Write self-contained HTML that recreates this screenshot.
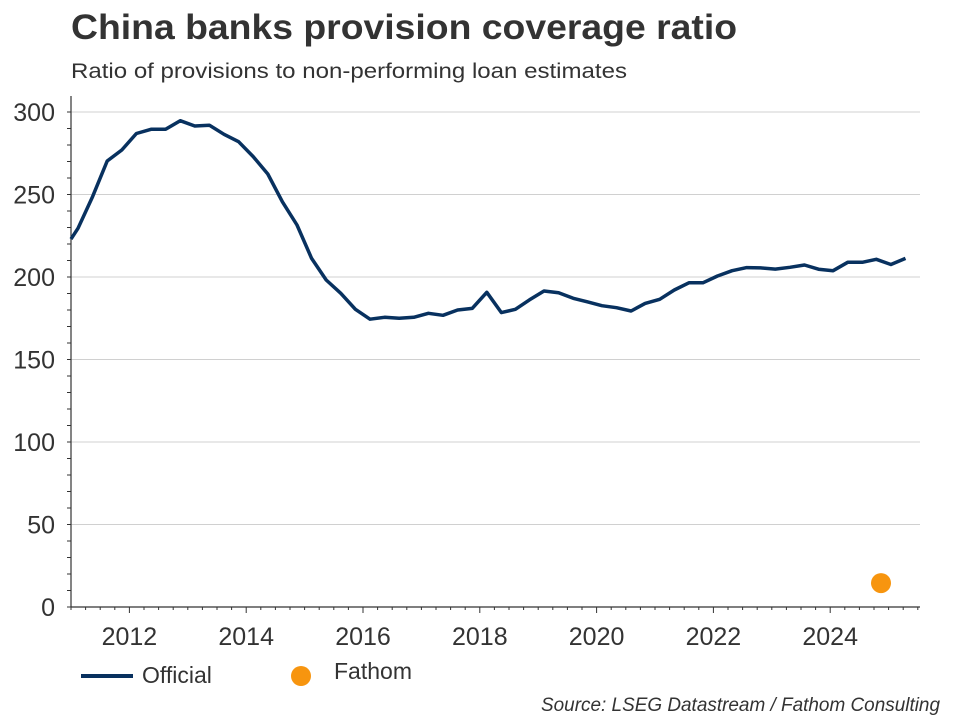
<!DOCTYPE html>
<html><head><meta charset="utf-8"><style>
body{margin:0;background:#fff;width:960px;height:720px;overflow:hidden;font-family:"Liberation Sans",Arial,sans-serif}
</style></head><body>
<svg width="960" height="720" id="c" font-family="Liberation Sans, Arial, sans-serif">
<text x="71" y="39" font-size="35" font-weight="bold" fill="#333" textLength="666" lengthAdjust="spacingAndGlyphs">China banks provision coverage ratio</text>
<text x="71" y="78" font-size="21" fill="#333" textLength="556" lengthAdjust="spacingAndGlyphs">Ratio of provisions to non-performing loan estimates</text>
<g id="grid"></g><g id="axes"></g><g id="marks"></g>
<line x1="81" y1="676" x2="133" y2="676" stroke="#08315f" stroke-width="4"/>
<text x="142" y="683" font-size="23" fill="#333">Official</text>
<ellipse cx="301" cy="676" rx="10" ry="10" fill="#f7950f"/>
<text x="334" y="679" font-size="23" fill="#333">Fathom</text>
<text x="940" y="711" font-size="19" font-style="italic" fill="#333" text-anchor="end" textLength="399" lengthAdjust="spacingAndGlyphs">Source: LSEG Datastream / Fathom Consulting</text>
</svg>
<script>
const officialDates=[2011.12,2011.37,2011.62,2011.87,2012.12,2012.37,2012.62,2012.87,2013.12,2013.37,2013.62,2013.87,2014.12,2014.37,2014.62,2014.87,2015.12,2015.37,2015.62,2015.87,2016.12,2016.37,2016.62,2016.87,2017.12,2017.37,2017.62,2017.87,2018.12,2018.37,2018.61,2018.85,2019.1,2019.35,2019.6,2019.84,2020.09,2020.34,2020.59,2020.83,2021.08,2021.33,2021.58,2021.82,2022.07,2022.32,2022.57,2022.81,2023.06,2023.31,2023.56,2023.8,2024.05,2024.3,2024.55,2024.79,2025.04,2025.29];
const officialValues=[229.5,248.7,270.3,277,287,289.5,289.5,294.7,291.5,292,286.5,282,273,262.4,245.6,231.5,211.3,198.2,190.1,180.4,174.4,175.6,175,175.6,178,176.8,180,181,190.7,178.4,180.4,186.1,191.5,190.5,187.1,185,182.6,181.4,179.4,184,186.5,192.1,196.5,196.5,200.6,203.8,205.7,205.5,204.8,205.9,207.3,204.7,203.8,208.9,208.9,210.7,207.6,211.3];
const fathomDates=[2024.87];
const fathomValues=[14.5];
const yTicks=[0,50,100,150,200,250,300];
const xTicks=[2012,2014,2016,2018,2020,2022,2024];
const NS="http://www.w3.org/2000/svg";
const X0=71,X1=920,Y0=607,YT=96;
const xs=t=>X0+(t-2011.0)*58.4;
const ys=v=>Y0-v*1.65;
function mk(tag,attrs,parent){const e=document.createElementNS(NS,tag);for(const k in attrs)e.setAttribute(k,attrs[k]);document.getElementById(parent).appendChild(e);return e;}
yTicks.forEach(v=>{
  if(v>0){const g=mk('line',{x1:X0,x2:X1,y1:ys(v),y2:ys(v),stroke:'#d0d0d0','stroke-width':1},'grid');
  
  }
  const t=mk('text',{x:55,y:ys(v)+9,'font-size':25,fill:'#333','text-anchor':'end'},'axes');t.textContent=v;
  
  
});
for(let v=0;v<=300;v+=10){const l=mk('line',{x1:X0-4,x2:X0,y1:ys(v),y2:ys(v),stroke:'#333','stroke-width':1},'axes');
  
  }
const ya=mk('line',{x1:X0,x2:X0,y1:YT,y2:Y0,stroke:'#333','stroke-width':1.2},'axes');


const xa=mk('line',{x1:X0,x2:X1,y1:Y0,y2:Y0,stroke:'#333','stroke-width':1.2},'axes');


for(let t=2011;t<=2025.5;t+=0.25){const big=Math.abs(t-Math.round(t))<1e-6&&Math.round(t)%2===0;
  const l=mk('line',{x1:xs(t),x2:xs(t),y1:Y0,y2:Y0+(big?6:3),stroke:'#333','stroke-width':1},'axes');
  
  }
xTicks.forEach(y=>{const t=mk('text',{x:xs(y),y:645,'font-size':25,fill:'#333','text-anchor':'middle'},'axes');t.textContent=y;
  
  });
const pts=officialDates.map((d,i)=>xs(d).toFixed(1)+','+ys(officialValues[i]).toFixed(1));
pts.unshift(X0+','+ys(223).toFixed(1));
const pl=mk('polyline',{points:pts.join(' '),fill:'none',stroke:'#08315f','stroke-width':3.5,'stroke-linejoin':'round'},'marks');


fathomDates.forEach((d,i)=>{const c=mk('circle',{cx:xs(d),cy:ys(fathomValues[i]),r:10,fill:'#f7950f'},'marks');
  
  });
</script>
</body></html>
